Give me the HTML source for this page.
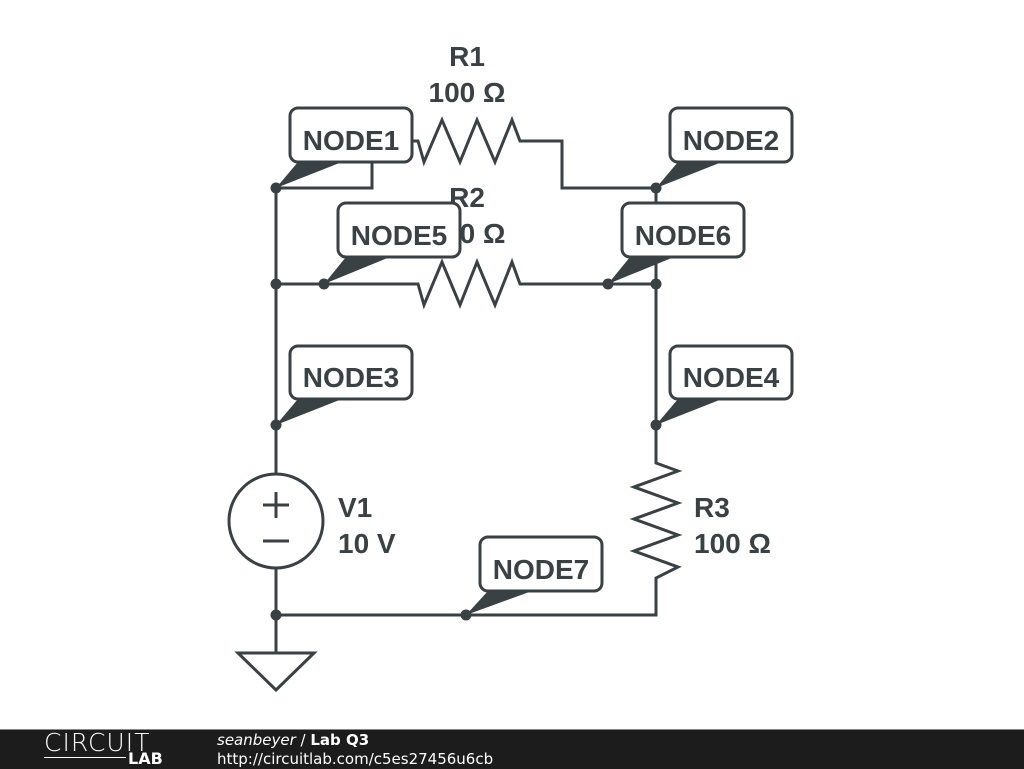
<!DOCTYPE html>
<html><head><style>
body{margin:0;width:1024px;height:768px;background:#fff;overflow:hidden;position:relative;font-family:"Liberation Sans",sans-serif}
#foot{position:absolute;left:0;top:729px;width:1024px;height:39px;background:#1c1c1c;border-top:1px solid #888}
</style></head><body>
<svg width="1024" height="730" style="position:absolute;left:0;top:0" font-family="Liberation Sans, sans-serif" font-weight="bold">
<g stroke="#3a4145" stroke-width="3" fill="none" stroke-linejoin="miter">
<polyline points="276,188 276,474"/>
<polyline points="276,568 276,653"/>
<polygon points="238,653 314,653 276,690"/>
<circle cx="276" cy="521" r="47"/>
<line x1="263" y1="505" x2="289" y2="505"/><line x1="276" y1="492" x2="276" y2="518"/>
<line x1="263" y1="541" x2="289" y2="541"/>
<polyline points="276,188 372,188 372,160"/>
<polyline points="400,141 418,141 424,162 442,120 460,162 477,120 495,162 512,120 520,141 562,141 562,188 656,188 656,463 678,471 634,487 678,503 634,519 678,535 634,551 678,567 656,578 656,615 276,615"/>
<polyline points="276,284 418,284 424,305 442,262 460,305 477,262 495,305 512,262 520,284 656,284"/>
</g>
<g fill="#3a4145">
<circle cx="276" cy="188" r="5.5"/><circle cx="656" cy="188" r="5.5"/>
<circle cx="276" cy="284" r="5.5"/><circle cx="324" cy="284" r="5.5"/><circle cx="608" cy="284" r="5.5"/><circle cx="656" cy="284" r="5.5"/>
<circle cx="276" cy="425" r="5.5"/><circle cx="656" cy="425" r="5.5"/>
<circle cx="276" cy="615" r="5.5"/><circle cx="466" cy="615" r="5.5"/>
<polygon points="276,188 298,162 342,162"/>
<polygon points="656,188 678,162 722,162"/>
<polygon points="324,284 346,257 390,257"/>
<polygon points="608,284 630,257 674,257"/>
<polygon points="276,425 298,399 342,399"/>
<polygon points="656,425 678,399 722,399"/>
<polygon points="466,615 488,591 532,591"/>
</g>
<g font-size="28" fill="#3a4145">
<text x="467" y="66" text-anchor="middle">R1</text>
<text x="467" y="102" text-anchor="middle">100 Ω</text>
<text x="467" y="207" text-anchor="middle">R2</text>
<text x="467" y="243" text-anchor="middle">100 Ω</text>
<text x="338" y="517">V1</text><text x="338" y="553">10 V</text>
<text x="694" y="517">R3</text><text x="694" y="553">100 Ω</text>
</g>
<g stroke="#3a4145" stroke-width="3" fill="#fff">
<rect x="290" y="108" width="122" height="54" rx="8"/>
<rect x="670" y="108" width="122" height="54" rx="8"/>
<rect x="338" y="203" width="122" height="54" rx="8"/>
<rect x="622" y="203" width="122" height="54" rx="8"/>
<rect x="290" y="346" width="122" height="53" rx="8"/>
<rect x="670" y="346" width="122" height="53" rx="8"/>
<rect x="480" y="537" width="122" height="54" rx="8"/>
</g>
<g font-size="28" fill="#3a4145" text-anchor="middle">
<text x="351" y="150">NODE1</text>
<text x="731" y="150">NODE2</text>
<text x="399" y="245">NODE5</text>
<text x="683" y="245">NODE6</text>
<text x="351" y="387">NODE3</text>
<text x="731" y="387">NODE4</text>
<text x="541" y="579">NODE7</text>
</g>
</svg>
<div id="foot">
<div style="position:absolute;left:44px;top:-2px;color:#fff;font-size:25px;letter-spacing:1px;font-family:'DejaVu Sans',sans-serif;font-weight:200">CIRCUIT</div>
<div style="position:absolute;left:44px;top:27px;width:82px;height:1px;background:#fff"></div>
<div style="position:absolute;left:128px;top:19px;color:#fff;font-size:16px;font-weight:bold;font-family:'DejaVu Sans',sans-serif">LAB</div>
<div style="position:absolute;left:217px;top:1px;color:#fff;font-size:15px;font-family:'DejaVu Sans',sans-serif"><i>seanbeyer</i> / <b>Lab Q3</b></div>
<div style="position:absolute;left:217px;top:20px;color:#fff;font-size:15px;font-family:'DejaVu Sans',sans-serif">http://circuitlab.com/c5es27456u6cb</div>
</div>
</body></html>
